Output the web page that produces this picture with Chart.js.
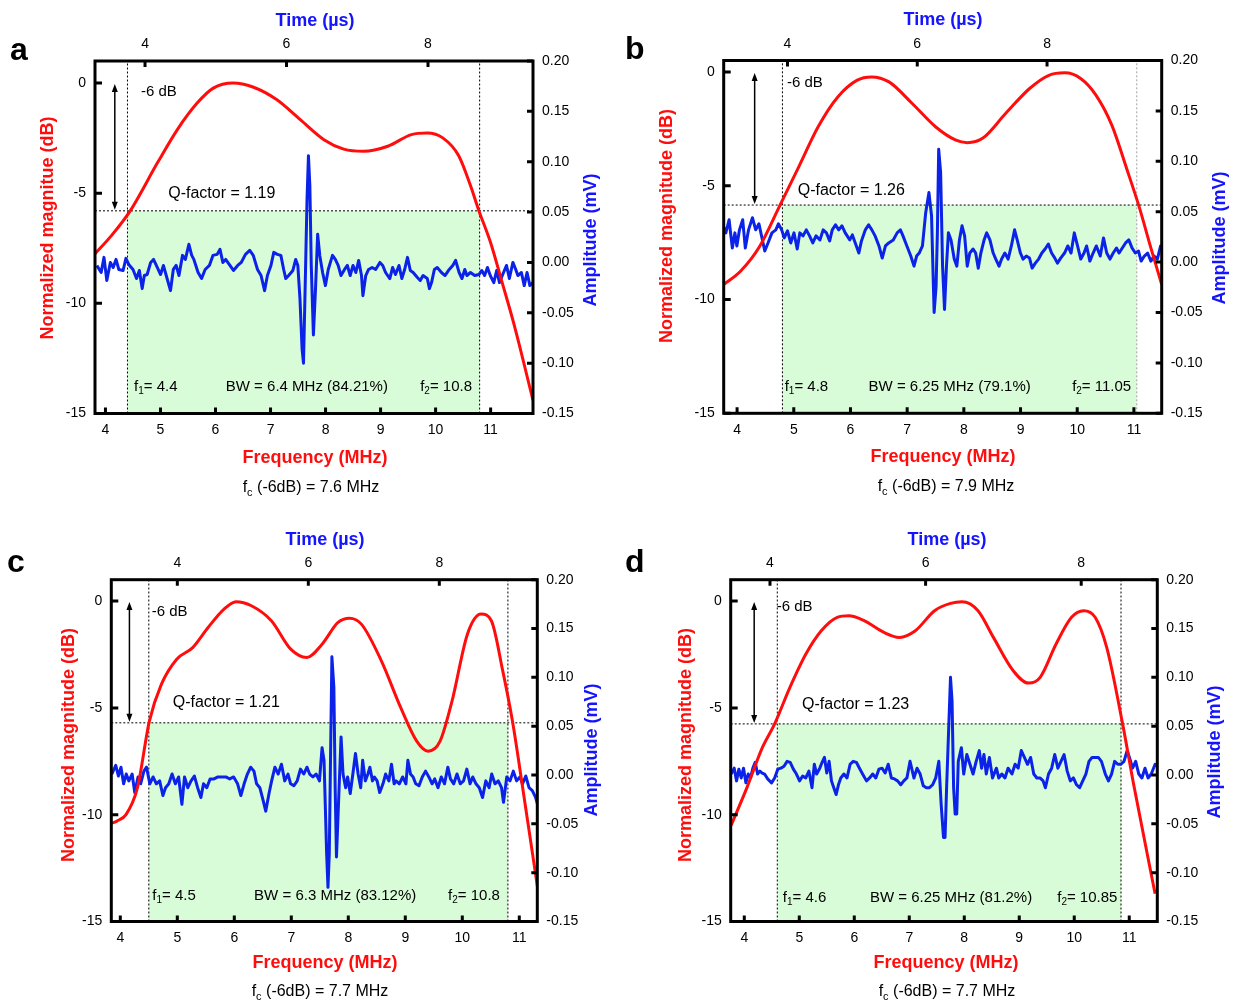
<!DOCTYPE html>
<html>
<head>
<meta charset="utf-8">
<title>Transducer bandwidth</title>
<script src="https://cdn.jsdelivr.net/npm/chart.js@4.4.1/dist/chart.umd.min.js"></script>
<style>
  html, body { margin: 0; padding: 0; background: #fff; }
  #wrap { position: relative; width: 1236px; height: 1002px; overflow: hidden; }
  #wrap canvas { position: absolute; }
</style>
</head>
<body>
<div id="wrap">
  <canvas id="pa" width="618" height="501" style="left:0px;top:0px"></canvas>
  <canvas id="pb" width="618" height="501" style="left:618px;top:0px"></canvas>
  <canvas id="pc" width="618" height="501" style="left:0px;top:501px"></canvas>
  <canvas id="pd" width="618" height="501" style="left:618px;top:501px"></canvas>
</div>
<script>
// ---------- axis ticks ----------
const freqTicks = [4, 5, 6, 7, 8, 9, 10, 11];          // MHz
const timeTicks = [4, 6, 8];                          // µs
const dbTicks = [0, -5, -10, -15];                    // dB
const ampTicks = [-0.15, -0.10, -0.05, 0, 0.05, 0.10, 0.15, 0.20]; // mV

// ---------- band summary per transducer (a, b, c, d) ----------
const bandF1 = [4.4, 4.8, 4.5, 4.6];          // lower -6 dB frequency, MHz
const bandF2 = [10.8, 11.05, 10.8, 10.85];    // upper -6 dB frequency, MHz
const bandwidth = [6.4, 6.25, 6.3, 6.25];     // MHz
const bandPct = [84.21, 79.1, 83.12, 81.2];   // fractional bandwidth, %
const qFactor = [1.19, 1.26, 1.21, 1.23];
const centerFreq = [7.6, 7.9, 7.7, 7.7];      // MHz
const cutoffDb = [-5.8, -5.85, -5.7, -5.75];  // level of the dotted -6 dB line

// ---------- normalized magnitude spectra: [frequency MHz, dB] ----------
const magA = [[3.81,-7.75],[4.10,-6.95],[4.45,-5.8],[4.95,-3.6],[5.31,-2.1],[5.67,-0.9],[5.96,-0.23],[6.32,0],[6.68,-0.18],[7.11,-0.75],[7.54,-1.66],[7.97,-2.57],[8.33,-3.0],[8.69,-3.1],[9.13,-2.87],[9.56,-2.34],[9.85,-2.27],[10.13,-2.49],[10.42,-3.3],[10.64,-4.7],[10.78,-5.75],[11.0,-7.25],[11.21,-9.06],[11.43,-11.0],[11.77,-14.4]];
const magB = [[3.76,-9.35],[4.06,-8.76],[4.4,-7.66],[4.76,-5.84],[5.09,-4.16],[5.43,-2.41],[5.78,-1.09],[6.12,-0.36],[6.37,-0.22],[6.68,-0.44],[7.09,-1.39],[7.5,-2.41],[7.85,-2.99],[8.06,-3.11],[8.33,-2.92],[8.74,-1.82],[9.16,-0.73],[9.5,-0.15],[9.78,-0.04],[10.06,-0.29],[10.33,-1.02],[10.61,-2.34],[10.88,-4.31],[11.09,-5.91],[11.3,-7.74],[11.49,-9.34]];
const magC = [[3.85,-10.4],[3.94,-10.3],[4.1,-10.0],[4.3,-8.75],[4.51,-5.62],[4.72,-3.9],[4.99,-2.72],[5.27,-2.18],[5.54,-1.24],[5.82,-0.38],[6.03,-0.03],[6.3,-0.22],[6.65,-0.92],[6.99,-2.25],[7.27,-2.64],[7.54,-2.02],[7.82,-1.0],[8.02,-0.8],[8.23,-1.08],[8.58,-2.8],[8.92,-4.99],[9.2,-6.56],[9.4,-7.03],[9.61,-6.56],[9.82,-4.68],[10.09,-1.55],[10.33,-0.61],[10.51,-0.92],[10.71,-3.27],[10.88,-5.62],[11.06,-8.75],[11.32,-13.4]];
const magD = [[3.76,-10.5],[4.05,-8.72],[4.33,-6.85],[4.55,-5.76],[4.83,-4.04],[5.12,-2.48],[5.4,-1.39],[5.69,-0.76],[5.9,-0.69],[6.18,-0.92],[6.54,-1.47],[6.82,-1.7],[7.11,-1.39],[7.46,-0.45],[7.75,-0.11],[7.96,-0.03],[8.25,-0.45],[8.53,-1.7],[8.89,-3.26],[9.17,-3.84],[9.38,-3.57],[9.67,-2.01],[9.95,-0.76],[10.17,-0.45],[10.38,-0.76],[10.59,-2.17],[10.88,-5.76],[11.09,-8.72],[11.47,-13.7]];

// ---------- pulse-echo waveforms: [time µs, amplitude mV] ----------
const sigA = [[3.32,-0.003],[3.38,-0.010],[3.42,0.005],[3.46,-0.018],[3.51,0.000],[3.55,-0.005],[3.59,0.003],[3.63,-0.007],[3.69,-0.008],[3.73,0.004],[3.77,-0.002],[3.83,-0.007],[3.88,-0.016],[3.92,-0.008],[3.96,-0.026],[3.99,-0.013],[4.03,-0.012],[4.08,0.000],[4.12,0.003],[4.16,-0.003],[4.22,-0.012],[4.26,-0.003],[4.30,-0.013],[4.36,-0.028],[4.40,-0.007],[4.44,-0.003],[4.48,-0.013],[4.53,0.007],[4.57,0.003],[4.62,0.018],[4.66,0.007],[4.69,0.003],[4.75,-0.010],[4.80,-0.016],[4.85,-0.007],[4.91,-0.003],[4.96,0.007],[5.02,0.008],[5.06,0.013],[5.10,0.000],[5.14,0.003],[5.20,-0.003],[5.25,-0.008],[5.31,-0.003],[5.36,0.000],[5.42,0.008],[5.48,0.012],[5.53,0.007],[5.59,-0.007],[5.64,-0.013],[5.69,-0.028],[5.73,-0.013],[5.78,-0.003],[5.82,0.010],[5.87,0.008],[5.92,0.007],[5.96,-0.007],[5.99,-0.016],[6.03,-0.013],[6.09,-0.008],[6.13,0.003],[6.16,-0.003],[6.19,-0.036],[6.22,-0.086],[6.24,-0.100],[6.26,-0.036],[6.29,0.063],[6.31,0.106],[6.33,0.076],[6.35,-0.003],[6.38,-0.072],[6.41,-0.026],[6.44,0.028],[6.47,0.007],[6.51,-0.010],[6.55,-0.023],[6.59,-0.007],[6.65,0.007],[6.69,0.003],[6.73,-0.003],[6.77,-0.013],[6.82,-0.007],[6.86,-0.003],[6.90,-0.013],[6.94,-0.003],[6.98,-0.010],[7.02,0.002],[7.06,-0.013],[7.08,-0.033],[7.12,-0.013],[7.16,-0.007],[7.21,-0.005],[7.26,-0.007],[7.32,0.000],[7.36,-0.003],[7.40,-0.010],[7.46,-0.016],[7.50,-0.005],[7.54,-0.012],[7.59,-0.003],[7.63,-0.016],[7.67,-0.007],[7.71,0.005],[7.75,-0.008],[7.79,-0.010],[7.85,-0.015],[7.89,-0.018],[7.93,-0.013],[7.99,-0.016],[8.02,-0.026],[8.05,-0.020],[8.09,-0.007],[8.13,-0.005],[8.19,-0.010],[8.24,-0.013],[8.30,-0.007],[8.35,-0.003],[8.39,0.002],[8.44,-0.010],[8.48,-0.016],[8.52,-0.007],[8.55,-0.013],[8.60,-0.010],[8.66,-0.013],[8.72,-0.012],[8.76,-0.008],[8.80,-0.013],[8.84,-0.005],[8.88,-0.013],[8.93,-0.020],[8.97,-0.008],[9.01,-0.020],[9.05,-0.013],[9.11,-0.003],[9.15,-0.016],[9.20,0.000],[9.24,-0.007],[9.27,-0.013],[9.32,-0.010],[9.36,-0.023],[9.40,-0.010],[9.44,-0.023],[9.48,-0.020]];
const sigB = [[3.01,0.036],[3.05,0.029],[3.10,0.042],[3.15,0.014],[3.19,0.029],[3.22,0.016],[3.26,0.032],[3.31,0.042],[3.35,0.014],[3.40,0.032],[3.46,0.044],[3.51,0.032],[3.56,0.038],[3.60,0.026],[3.65,0.011],[3.70,0.019],[3.76,0.029],[3.82,0.032],[3.86,0.038],[3.91,0.032],[3.95,0.024],[4.00,0.031],[4.05,0.019],[4.10,0.029],[4.15,0.013],[4.19,0.029],[4.24,0.026],[4.29,0.032],[4.34,0.026],[4.39,0.019],[4.44,0.026],[4.50,0.022],[4.55,0.032],[4.60,0.029],[4.65,0.021],[4.69,0.032],[4.74,0.037],[4.79,0.032],[4.84,0.036],[4.89,0.029],[4.96,0.022],[5.00,0.027],[5.05,0.018],[5.10,0.009],[5.14,0.021],[5.20,0.032],[5.25,0.037],[5.30,0.032],[5.35,0.026],[5.41,0.016],[5.46,0.004],[5.51,0.016],[5.56,0.019],[5.63,0.022],[5.69,0.029],[5.74,0.032],[5.78,0.026],[5.84,0.016],[5.90,0.006],[5.95,-0.004],[5.99,0.006],[6.03,0.009],[6.08,0.016],[6.13,0.049],[6.18,0.069],[6.22,0.046],[6.25,-0.027],[6.26,-0.050],[6.29,-0.024],[6.31,0.029],[6.33,0.112],[6.36,0.089],[6.39,-0.004],[6.42,-0.047],[6.45,-0.004],[6.48,0.029],[6.52,0.022],[6.57,0.003],[6.61,-0.004],[6.65,0.022],[6.69,0.036],[6.73,0.026],[6.77,-0.004],[6.81,0.009],[6.86,0.013],[6.90,0.009],[6.94,-0.006],[6.98,0.009],[7.03,0.022],[7.07,0.029],[7.12,0.022],[7.17,0.009],[7.21,0.003],[7.26,-0.004],[7.30,0.003],[7.35,0.009],[7.40,0.003],[7.45,0.016],[7.50,0.032],[7.54,0.022],[7.59,0.009],[7.63,0.003],[7.68,0.006],[7.73,0.004],[7.77,-0.006],[7.82,-0.001],[7.87,0.003],[7.92,0.009],[7.97,0.013],[8.02,0.018],[8.07,0.009],[8.12,0.004],[8.16,-0.001],[8.21,0.004],[8.27,0.009],[8.32,0.016],[8.37,0.009],[8.42,0.029],[8.47,0.016],[8.52,0.003],[8.57,0.009],[8.61,0.016],[8.66,0.001],[8.71,0.009],[8.76,0.016],[8.82,0.006],[8.87,0.024],[8.92,0.009],[8.97,0.003],[9.02,0.009],[9.07,0.014],[9.11,0.009],[9.16,0.014],[9.21,0.019],[9.26,0.022],[9.31,0.014],[9.36,0.009],[9.41,0.011],[9.45,0.001],[9.50,0.006],[9.55,0.009],[9.60,0.001],[9.65,0.006],[9.70,0.003],[9.75,0.016],[9.78,0.014]];
const sigC = [[3.00,0.001],[3.06,0.010],[3.10,-0.001],[3.14,0.008],[3.18,-0.009],[3.22,0.001],[3.26,-0.006],[3.31,0.001],[3.35,-0.018],[3.40,-0.002],[3.44,-0.009],[3.49,0.004],[3.53,0.008],[3.58,-0.009],[3.63,-0.002],[3.68,-0.009],[3.73,-0.006],[3.78,-0.021],[3.82,-0.013],[3.87,-0.009],[3.92,0.001],[3.97,-0.009],[4.02,-0.002],[4.07,-0.030],[4.11,-0.002],[4.16,-0.013],[4.21,-0.006],[4.26,-0.001],[4.31,-0.013],[4.36,-0.023],[4.40,-0.009],[4.45,-0.013],[4.50,-0.004],[4.56,-0.004],[4.62,-0.002],[4.68,-0.002],[4.74,-0.002],[4.80,-0.004],[4.86,-0.002],[4.92,-0.009],[4.97,-0.021],[5.02,-0.009],[5.07,0.001],[5.12,0.008],[5.17,0.004],[5.21,-0.009],[5.26,-0.013],[5.31,-0.026],[5.35,-0.037],[5.40,-0.019],[5.44,-0.006],[5.49,0.008],[5.54,0.001],[5.59,0.011],[5.64,-0.006],[5.69,0.001],[5.73,-0.009],[5.78,-0.011],[5.83,-0.006],[5.88,0.006],[5.93,0.001],[5.98,0.008],[6.02,0.001],[6.07,-0.002],[6.12,0.001],[6.17,-0.006],[6.21,0.028],[6.24,0.015],[6.28,-0.081],[6.30,-0.115],[6.32,-0.081],[6.34,0.022],[6.36,0.121],[6.39,0.090],[6.41,-0.013],[6.43,-0.084],[6.47,-0.013],[6.50,0.039],[6.53,0.001],[6.57,-0.013],[6.60,-0.002],[6.64,-0.019],[6.68,0.001],[6.72,0.022],[6.76,0.001],[6.80,-0.013],[6.83,0.015],[6.87,-0.006],[6.91,0.001],[6.94,0.008],[6.98,-0.006],[7.01,-0.002],[7.05,-0.006],[7.09,-0.018],[7.14,-0.009],[7.18,0.001],[7.23,-0.006],[7.27,0.011],[7.31,-0.009],[7.34,-0.006],[7.39,-0.009],[7.44,-0.002],[7.49,-0.009],[7.52,0.015],[7.56,0.001],[7.60,-0.002],[7.64,-0.009],[7.69,-0.011],[7.74,-0.002],[7.79,0.004],[7.84,-0.002],[7.89,-0.009],[7.93,-0.004],[7.98,-0.013],[8.03,-0.002],[8.08,-0.009],[8.13,0.008],[8.17,-0.004],[8.22,-0.009],[8.27,0.001],[8.32,-0.009],[8.37,-0.006],[8.42,0.006],[8.47,-0.009],[8.51,-0.002],[8.56,-0.009],[8.61,-0.013],[8.66,-0.023],[8.71,-0.006],[8.76,-0.013],[8.80,0.001],[8.85,-0.009],[8.90,-0.006],[8.95,-0.013],[8.98,-0.028],[9.03,-0.002],[9.08,-0.006],[9.13,0.004],[9.18,-0.006],[9.23,-0.002],[9.27,-0.009],[9.32,-0.001],[9.37,-0.013],[9.42,-0.016],[9.47,-0.023],[9.50,-0.030]];
const sigD = [[3.50,0.001],[3.54,0.007],[3.57,-0.006],[3.60,0.006],[3.63,-0.003],[3.66,0.007],[3.69,-0.008],[3.72,0.001],[3.75,-0.003],[3.78,0.007],[3.81,0.013],[3.84,0.001],[3.87,0.004],[3.90,0.002],[3.93,0.001],[3.97,-0.004],[4.02,-0.008],[4.06,-0.003],[4.10,0.006],[4.14,0.007],[4.18,0.009],[4.22,0.014],[4.26,0.013],[4.30,0.006],[4.34,0.001],[4.38,-0.006],[4.42,-0.001],[4.46,-0.003],[4.50,0.004],[4.54,-0.013],[4.57,0.011],[4.60,0.001],[4.64,0.007],[4.67,0.013],[4.70,0.018],[4.73,0.002],[4.76,0.014],[4.79,-0.006],[4.82,-0.013],[4.85,-0.020],[4.88,-0.010],[4.91,-0.003],[4.95,0.001],[4.99,-0.003],[5.03,0.011],[5.07,0.014],[5.11,0.013],[5.15,0.007],[5.19,0.001],[5.24,-0.006],[5.28,-0.003],[5.32,0.001],[5.36,-0.003],[5.40,0.006],[5.44,0.007],[5.48,0.002],[5.52,0.011],[5.56,-0.003],[5.60,-0.004],[5.64,-0.006],[5.68,-0.010],[5.72,-0.006],[5.76,-0.003],[5.80,0.014],[5.85,-0.003],[5.89,0.007],[5.93,0.001],[5.97,-0.011],[6.01,-0.013],[6.05,-0.013],[6.09,-0.010],[6.13,-0.003],[6.17,0.014],[6.20,-0.030],[6.23,-0.064],[6.25,-0.064],[6.27,-0.013],[6.30,0.055],[6.32,0.100],[6.34,0.076],[6.36,-0.013],[6.38,-0.040],[6.40,-0.040],[6.42,0.014],[6.46,0.028],[6.49,0.001],[6.53,0.021],[6.57,0.011],[6.61,0.001],[6.65,0.014],[6.69,0.025],[6.72,0.007],[6.75,0.021],[6.78,0.001],[6.82,0.018],[6.86,-0.003],[6.91,0.007],[6.94,-0.003],[6.98,0.001],[7.02,-0.003],[7.06,0.007],[7.11,0.001],[7.15,0.011],[7.19,0.007],[7.23,0.025],[7.27,0.018],[7.31,0.011],[7.35,0.018],[7.39,0.001],[7.43,-0.003],[7.47,-0.003],[7.51,-0.006],[7.54,-0.013],[7.58,0.001],[7.62,0.007],[7.66,0.021],[7.70,0.007],[7.74,0.014],[7.78,0.021],[7.82,0.004],[7.86,-0.006],[7.90,-0.003],[7.94,-0.010],[7.98,-0.013],[8.02,-0.006],[8.06,0.001],[8.10,0.014],[8.14,0.018],[8.18,0.018],[8.22,0.018],[8.26,0.014],[8.31,0.001],[8.35,-0.006],[8.39,0.001],[8.43,0.014],[8.47,0.011],[8.51,0.011],[8.55,0.014],[8.59,0.025],[8.62,0.018],[8.66,0.007],[8.70,0.014],[8.74,0.001],[8.78,-0.003],[8.82,0.007],[8.86,-0.003],[8.90,0.001],[8.95,0.011],[8.98,0.009]];

const spectra = [magA, magB, magC, magD];
const waveforms = [sigA, sigB, sigC, sigD];

// ---------- look ----------
const FONT = "'Liberation Sans', Arial, Helvetica, sans-serif";
const RED = '#ff0d0d';
const BLUE = '#0b22e8';
const BLUE_TEXT = '#1414ff';
const GREEN = 'rgb(216, 251, 216)';

// Panel geometry in page pixels (box = plot frame: left, top, right, bottom)
const layouts = [
  { id: 'pa', letter: 'a', ox: 0, oy: 0, box: [95, 61, 533, 413.5],
    fRange: [3.81, 11.77], tRange: [3.293, 9.484], dbTop: 1, arrowF: 4.17, f2Color: '#000',
    letterAt: [10, 60], timeAt: [315, 21], magAt: [48, 228], ampAt: [591, 240], freqAt: [315, 458], fcAt: [311, 488],
    magTitle: 'Normalized magnitue (dB)',
    sixDbAt: [4.645, -0.42], qAt: [5.14, -5.0], f1At: [4.52, -13.8], bwAt: [7.66, -13.8], f2At: [9.72, -13.8] },
  { id: 'pb', letter: 'b', ox: 618, oy: 0, box: [723.7, 60.5, 1161.7, 413.3],
    fRange: [3.764, 11.49], tRange: [3.017, 9.767], dbTop: 0.5, arrowF: 4.31, f2Color: '#a0a0a0',
    letterAt: [625, 59], timeAt: [943, 20], magAt: [667, 226], ampAt: [1220, 238], freqAt: [943, 457], fcAt: [946, 487],
    magTitle: 'Normalized magnitude (dB)',
    sixDbAt: [4.88, -0.47], qAt: [5.07, -5.22], f1At: [4.84, -13.84], bwAt: [7.75, -13.84], f2At: [9.91, -13.84] },
  { id: 'pc', letter: 'c', ox: 0, oy: 501, box: [111.3, 579.7, 537.3, 921.5],
    fRange: [3.842, 11.316], tRange: [2.992, 9.496], dbTop: 1, arrowF: 4.16, f2Color: '#000',
    letterAt: [7, 572], timeAt: [325, 540], magAt: [69, 745], ampAt: [592, 750], freqAt: [325, 963], fcAt: [320, 992],
    magTitle: 'Normalized magnitude (dB)',
    sixDbAt: [4.55, -0.51], qAt: [4.92, -4.77], f1At: [4.56, -13.8], bwAt: [7.77, -13.8], f2At: [9.75, -13.8] },
  { id: 'pd', letter: 'd', ox: 618, oy: 501, box: [730.7, 579.7, 1157.3, 921.5],
    fRange: [3.753, 11.51], tRange: [3.495, 8.978], dbTop: 1, arrowF: 4.18, f2Color: '#000',
    letterAt: [625, 572], timeAt: [947, 540], magAt: [686, 745], ampAt: [1215, 752], freqAt: [946, 963], fcAt: [947, 992],
    magTitle: 'Normalized magnitude (dB)',
    sixDbAt: [4.59, -0.28], qAt: [5.05, -4.83], f1At: [4.70, -13.9], bwAt: [7.76, -13.9], f2At: [9.69, -13.9] }
];

const CW = 618, CH = 501;
// fixed thickness of each axis band that holds its tick labels
const BAND = { left: 40, right: 52, top: 30, bottom: 30 };

// Text made of plain and subscript runs, e.g. f + "1" + "= 4.4"
function richText(ctx, parts, x, y, size, align, color) {
  const fontFor = sub => (sub ? Math.round(size * 0.68) : size) + 'px ' + FONT;
  ctx.fillStyle = color;
  ctx.textBaseline = 'middle';
  ctx.textAlign = 'left';
  let w = 0;
  for (const [s, sub] of parts) { ctx.font = fontFor(sub); w += ctx.measureText(s).width; }
  let cx = align === 'center' ? x - w / 2 : x;
  for (const [s, sub] of parts) {
    ctx.font = fontFor(sub);
    ctx.fillText(s, cx, sub ? y + size * 0.3 : y);
    cx += ctx.measureText(s).width;
  }
}

function titleText(ctx, text, x, y, color, vertical) {
  ctx.save();
  ctx.font = 'bold 18px ' + FONT;
  ctx.fillStyle = color;
  ctx.textAlign = 'center';
  ctx.textBaseline = 'middle';
  ctx.translate(x, y);
  if (vertical) ctx.rotate(-Math.PI / 2);
  ctx.fillText(text, 0, 0);
  ctx.restore();
}

function decorations(k) {
  const L = layouts[k];
  return {
    id: 'decor' + k,
    afterDatasetsDraw(chart) {
      const { ctx, chartArea: ca, scales } = chart;
      const sx = scales.x, sy = scales.y, st = scales.x2, sa = scales.y2;
      ctx.save();

      // inward tick marks on all four sides
      ctx.strokeStyle = '#000';
      ctx.lineWidth = 3;
      ctx.lineCap = 'butt';
      ctx.beginPath();
      freqTicks.forEach(v => { const p = sx.getPixelForValue(v); ctx.moveTo(p, ca.bottom); ctx.lineTo(p, ca.bottom - 6); });
      timeTicks.forEach(v => { const p = st.getPixelForValue(v); ctx.moveTo(p, ca.top); ctx.lineTo(p, ca.top + 6); });
      dbTicks.forEach(v => { const p = sy.getPixelForValue(v); ctx.moveTo(ca.left, p); ctx.lineTo(ca.left + 7, p); });
      ampTicks.forEach(v => { const p = sa.getPixelForValue(v); ctx.moveTo(ca.right, p); ctx.lineTo(ca.right - 6, p); });
      ctx.stroke();

      // plot frame
      ctx.lineWidth = 3;
      ctx.strokeRect(ca.left, ca.top, ca.right - ca.left, ca.bottom - ca.top);

      // double-headed arrow spanning 0 dB to the cut-off line
      const ax = sx.getPixelForValue(L.arrowF);
      const ay0 = sy.getPixelForValue(0) + 1;
      const ay1 = sy.getPixelForValue(cutoffDb[k]) - 1;
      ctx.lineWidth = 1.5;
      ctx.beginPath();
      ctx.moveTo(ax, ay0 + 6); ctx.lineTo(ax, ay1 - 6);
      ctx.stroke();
      ctx.fillStyle = '#000';
      ctx.beginPath();
      ctx.moveTo(ax, ay0); ctx.lineTo(ax - 3, ay0 + 8); ctx.lineTo(ax + 3, ay0 + 8); ctx.closePath();
      ctx.moveTo(ax, ay1); ctx.lineTo(ax - 3, ay1 - 8); ctx.lineTo(ax + 3, ay1 - 8); ctx.closePath();
      ctx.fill();

      // annotations inside the plot
      const P = ([f, d]) => [sx.getPixelForValue(f), sy.getPixelForValue(d)];
      let [px, py] = P(L.sixDbAt);
      richText(ctx, [['-6 dB', false]], px, py, 15, 'left', '#000');
      [px, py] = P(L.qAt);
      richText(ctx, [['Q-factor = ' + qFactor[k], false]], px, py, 16, 'left', '#000');
      [px, py] = P(L.f1At);
      richText(ctx, [['f', false], ['1', true], ['= ' + bandF1[k], false]], px, py, 15, 'left', '#000');
      [px, py] = P(L.bwAt);
      richText(ctx, [['BW = ' + bandwidth[k] + ' MHz (' + bandPct[k] + '%)', false]], px, py, 15, 'center', '#000');
      [px, py] = P(L.f2At);
      richText(ctx, [['f', false], ['2', true], ['= ' + bandF2[k], false]], px, py, 15, 'left', '#000');

      // axis titles, panel letter and centre-frequency caption
      const loc = ([x, y]) => [x - L.ox, y - L.oy];
      let [tx, ty] = loc(L.timeAt);
      titleText(ctx, 'Time (\u00b5s)', tx, ty, BLUE_TEXT, false);
      [tx, ty] = loc(L.freqAt);
      titleText(ctx, 'Frequency (MHz)', tx, ty, RED, false);
      [tx, ty] = loc(L.magAt);
      titleText(ctx, L.magTitle, tx, ty, RED, true);
      [tx, ty] = loc(L.ampAt);
      titleText(ctx, 'Amplitude (mV)', tx, ty, BLUE_TEXT, true);
      [tx, ty] = loc(L.fcAt);
      richText(ctx, [['f', false], ['c', true], [' (-6dB) = ' + centerFreq[k] + ' MHz', false]], tx, ty, 16, 'center', '#000');
      [tx, ty] = loc(L.letterAt);
      ctx.font = 'bold 32px ' + FONT;
      ctx.fillStyle = '#000';
      ctx.textAlign = 'left';
      ctx.textBaseline = 'alphabetic';
      ctx.fillText(L.letter, tx, ty);

      ctx.restore();
    }
  };
}

function makePanel(k) {
  const L = layouts[k];
  const [bl, bt, br, bb] = L.box;
  const thr = cutoffDb[k];
  const f1 = bandF1[k], f2 = bandF2[k];
  const tickFont = { size: 14, family: FONT };
  const fixBand = s => {
    if (s.isHorizontal()) s.height = s.options.position === 'top' ? BAND.top : BAND.bottom;
    else s.width = s.options.position === 'left' ? BAND.left : BAND.right;
  };
  const useTicks = arr => s => { s.ticks = arr.map(v => ({ value: v })); };
  const dotted = { borderColor: '#000', borderWidth: 1, borderDash: [2, 2], pointRadius: 0, fill: false, xAxisID: 'x', yAxisID: 'y', order: 5 };
  const plainAxis = { grid: { display: false, drawTicks: false }, border: { display: false } };

  new Chart(document.getElementById(L.id), {
    type: 'line',
    data: {
      datasets: [
        { data: [{ x: f1, y: thr }, { x: f2, y: thr }], xAxisID: 'x', yAxisID: 'y', fill: 'start',
          backgroundColor: GREEN, borderWidth: 0, pointRadius: 0, order: 6 },
        Object.assign({ data: [{ x: L.fRange[0], y: thr }, { x: L.fRange[1], y: thr }] }, dotted),
        Object.assign({ data: [{ x: f1, y: -15 }, { x: f1, y: L.dbTop }] }, dotted),
        Object.assign({ data: [{ x: f2, y: -15 }, { x: f2, y: L.dbTop }] }, dotted, { borderColor: L.f2Color }),
        { data: waveforms[k].map(([t, a]) => ({ x: t, y: a })), xAxisID: 'x2', yAxisID: 'y2',
          borderColor: BLUE, borderWidth: 3, pointRadius: 0, tension: 0, fill: false, order: 2,
          borderJoinStyle: 'round' },
        { data: spectra[k].map(([f, d]) => ({ x: f, y: d })), xAxisID: 'x', yAxisID: 'y',
          borderColor: RED, borderWidth: 3, pointRadius: 0, cubicInterpolationMode: 'monotone', fill: false, order: 1 }
      ]
    },
    options: {
      responsive: false,
      animation: false,
      devicePixelRatio: 1,
      events: [],
      layout: {
        autoPadding: false,
        padding: {
          left: bl - L.ox - BAND.left,
          top: bt - L.oy - BAND.top,
          right: L.ox + CW - br - BAND.right,
          bottom: L.oy + CH - bb - BAND.bottom
        }
      },
      plugins: { legend: { display: false }, tooltip: { enabled: false } },
      scales: {
        x: Object.assign({ type: 'linear', position: 'bottom', min: L.fRange[0], max: L.fRange[1],
          afterFit: fixBand, afterBuildTicks: useTicks(freqTicks),
          ticks: { font: tickFont, color: '#000', padding: 8, maxRotation: 0, autoSkip: false } }, plainAxis),
        x2: Object.assign({ type: 'linear', position: 'top', min: L.tRange[0], max: L.tRange[1],
          afterFit: fixBand, afterBuildTicks: useTicks(timeTicks),
          ticks: { font: tickFont, color: '#000', padding: 8, maxRotation: 0, autoSkip: false } }, plainAxis),
        y: Object.assign({ type: 'linear', position: 'left', min: -15, max: L.dbTop,
          afterFit: fixBand, afterBuildTicks: useTicks(dbTicks),
          ticks: { font: tickFont, color: '#000', padding: 9, autoSkip: false } }, plainAxis),
        y2: Object.assign({ type: 'linear', position: 'right', min: -0.15, max: 0.2,
          afterFit: fixBand, afterBuildTicks: useTicks(ampTicks),
          ticks: { font: tickFont, color: '#000', padding: 9, autoSkip: false, callback: v => v.toFixed(2) } }, plainAxis)
      }
    },
    plugins: [decorations(k)]
  });
}

Chart.defaults.font.family = FONT;
for (let k = 0; k < 4; k++) makePanel(k);
</script>
</body>
</html>
